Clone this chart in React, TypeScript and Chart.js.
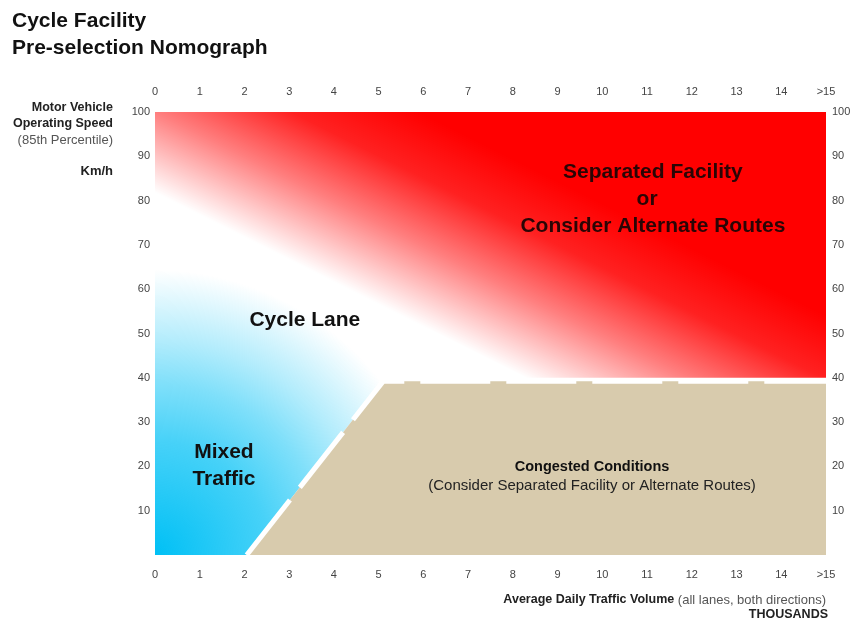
import React, { useEffect, useRef } from 'react';
import { Chart, registerables } from 'chart.js';

Chart.register(...registerables);

// ---- data ----
const xTickLabels = ['0', '1', '2', '3', '4', '5', '6', '7', '8', '9', '10', '11', '12', '13', '14', '>15'];
const yTickLabels = ['', '10', '20', '30', '40', '50', '60', '70', '80', '90', '100'];

// Separated facility zone (red)
const separatedX = [0, 15, 15, 0];
const separatedY = [100, 100, 40, 40];
// Mixed traffic zone (blue, fades out before its upper edge)
const mixedX = [0, 2.05, 5.1, 5.1, 0];
const mixedY = [0, 0, 39.2, 70, 70];
// Congested conditions zone (tan)
const congestedX = [2.05, 5.1, 15, 15];
const congestedY = [0, 39.2, 39.2, 0];
// Dashed boundary of congested zone
const boundaryX = [2.05, 5.1, 15];
const boundaryY = [0, 39.2, 39.2];
// Line where the red fades out to white
const redFadeX = [0, 15];
const redFadeY = [81.8, 6.1];
// Centre of the blue fade
const blueCenterX = 0;
const blueCenterY = 0;

const FONT = "'Liberation Sans', Arial, sans-serif";

const toPoints = (xs: number[], ys: number[]) => xs.map((x, i) => ({ x, y: ys[i] }));

function linearFade(chart: any, fx: number[], fy: number[], depth: number, rgb: string, stops: [number, number][]) {
  const { ctx, chartArea, scales } = chart;
  if (!chartArea) return 'rgba(0,0,0,0)';
  const x0 = scales.x.getPixelForValue(fx[0]);
  const y0 = scales.y.getPixelForValue(fy[0]);
  const x1 = scales.x.getPixelForValue(fx[1]);
  const y1 = scales.y.getPixelForValue(fy[1]);
  const dx = x1 - x0;
  const dy = y1 - y0;
  const len = Math.hypot(dx, dy) || 1;
  const nx = dy / len;
  const ny = -dx / len;
  const g = ctx.createLinearGradient(x0, y0, x0 + nx * depth, y0 + ny * depth);
  stops.forEach(([t, a]) => g.addColorStop(t, `rgba(${rgb},${a})`));
  return g;
}

function radialFade(chart: any, cx: number, cy: number, radius: number, rgb: string, stops: [number, number][]) {
  const { ctx, chartArea, scales } = chart;
  if (!chartArea) return 'rgba(0,0,0,0)';
  const px = scales.x.getPixelForValue(cx);
  const py = scales.y.getPixelForValue(cy);
  const g = ctx.createRadialGradient(px, py, 0, px, py, radius);
  stops.forEach(([t, a]) => g.addColorStop(t, `rgba(${rgb},${a})`));
  return g;
}

const textPlugin = {
  id: 'nomographText',
  afterDraw(chart: any) {
    const { ctx, scales } = chart;
    const xs = scales.x;
    const ys = scales.y;
    ctx.save();
    ctx.textBaseline = 'middle';

    // Title
    ctx.fillStyle = '#111';
    ctx.textAlign = 'left';
    ctx.font = `bold 21px ${FONT}`;
    ctx.fillText('Cycle Facility', 12, 21);
    ctx.fillText('Pre-selection Nomograph', 12, 48);

    // Left axis title
    ctx.textAlign = 'right';
    ctx.font = `bold 12.5px ${FONT}`;
    ctx.fillStyle = '#222';
    ctx.fillText('Motor Vehicle', 113, 108);
    ctx.fillText('Operating Speed', 113, 124);
    ctx.font = `13px ${FONT}`;
    ctx.fillStyle = '#555';
    ctx.fillText('(85th Percentile)', 113, 140);
    ctx.font = `bold 13px ${FONT}`;
    ctx.fillStyle = '#222';
    ctx.fillText('Km/h', 113, 171);

    // Bottom axis title
    ctx.font = `13px ${FONT}`;
    ctx.fillStyle = '#555';
    const normal = ' (all lanes, both directions)';
    const nw = ctx.measureText(normal).width;
    ctx.fillText(normal, 826, 600);
    ctx.font = `bold 12.5px ${FONT}`;
    ctx.fillStyle = '#222';
    ctx.fillText('Average Daily Traffic Volume', 826 - nw, 600);
    ctx.fillText('THOUSANDS', 828, 615);

    // Region labels
    ctx.textAlign = 'center';
    const put = (t: string, x: number, y: number, font: string, color: string) => {
      ctx.font = font;
      ctx.fillStyle = color;
      ctx.fillText(t, xs.getPixelForValue(x), ys.getPixelForValue(y));
    };
    const big = `bold 21px ${FONT}`;
    put('Separated Facility', 11.13, 86.4, big, '#2a0505');
    put('or', 11.0, 80.3, big, '#2a0505');
    put('Consider Alternate Routes', 11.13, 74.2, big, '#2a0505');
    put('Cycle Lane', 3.35, 53, big, '#111');
    put('Mixed', 1.54, 23.2, big, '#111');
    put('Traffic', 1.54, 17.1, big, '#111');
    put('Congested Conditions', 9.77, 19.8, `bold 14.5px ${FONT}`, '#111');
    put('(Consider Separated Facility or Alternate Routes)', 9.77, 15.5, `15px ${FONT}`, '#222');
    ctx.restore();
  },
};

const tickFont = { family: FONT, size: 11 };

export default function App() {
  const ref = useRef<HTMLCanvasElement | null>(null);

  useEffect(() => {
    if (!ref.current) return;
    const xAxis = (position: string, h: number) => ({
      type: 'linear',
      position,
      min: 0,
      max: 15,
      grid: { display: false, drawTicks: false },
      border: { display: false },
      ticks: {
        stepSize: 1,
        autoSkip: false,
        padding: 13,
        color: '#444',
        font: tickFont,
        callback: (v: number) => xTickLabels[v] ?? '',
      },
      afterFit: (s: any) => {
        s.height = h;
      },
    });
    const yAxis = (position: string, w: number, pad: number) => ({
      type: 'linear',
      position,
      min: 0,
      max: 100,
      grid: { display: false, drawTicks: false },
      border: { display: false },
      ticks: {
        stepSize: 10,
        autoSkip: false,
        padding: pad,
        color: '#444',
        font: tickFont,
        callback: (v: number) => yTickLabels[v / 10] ?? '',
      },
      afterFit: (s: any) => {
        s.width = w;
      },
    });

    const chart = new Chart(ref.current, {
      type: 'scatter',
      data: {
        datasets: [
          {
            label: 'Boundary',
            data: toPoints(boundaryX, boundaryY),
            showLine: true,
            borderColor: '#ffffff',
            borderWidth: 5,
            borderDash: [70, 16],
            pointRadius: 0,
            fill: false,
            order: 0,
          },
          {
            label: 'Congested Conditions',
            data: toPoints(congestedX, congestedY),
            showLine: true,
            borderWidth: 0,
            borderColor: 'rgba(0,0,0,0)',
            backgroundColor: 'rgb(216,203,173)',
            pointRadius: 0,
            fill: 'shape',
            order: 1,
          },
          {
            label: 'Mixed Traffic',
            data: toPoints(mixedX, mixedY),
            showLine: true,
            borderWidth: 0,
            borderColor: 'rgba(0,0,0,0)',
            backgroundColor: (c: any) =>
              radialFade(c.chart, blueCenterX, blueCenterY, 285, '0,192,245', [
                [0, 1],
                [0.4, 0.72],
                [0.6, 0.5],
                [0.75, 0.3],
                [1, 0],
              ]),
            pointRadius: 0,
            fill: 'shape',
            order: 2,
          },
          {
            label: 'Separated Facility',
            data: toPoints(separatedX, separatedY),
            showLine: true,
            borderWidth: 0,
            borderColor: 'rgba(0,0,0,0)',
            backgroundColor: (c: any) =>
              linearFade(c.chart, redFadeX, redFadeY, 190, '255,0,0', [
                [0, 0],
                [0.38, 0.5],
                [0.7, 0.87],
                [1, 1],
              ]),
            pointRadius: 0,
            fill: 'shape',
            order: 3,
          },
        ],
      } as any,
      options: {
        animation: false,
        responsive: false,
        layout: { padding: 0 },
        plugins: {
          legend: { display: false },
          tooltip: { enabled: false },
          title: { display: false },
        },
        scales: {
          x: xAxis('bottom', 65),
          x2: xAxis('top', 112),
          y: yAxis('left', 155, 5),
          y2: yAxis('right', 28, 6),
        } as any,
      },
      plugins: [textPlugin],
    });
    return () => chart.destroy();
  }, []);

  return (
    <div style={{ position: 'fixed', left: 0, top: 0, width: 854, height: 620, background: '#fff' }}>
      <canvas ref={ref} width={854} height={620} />
    </div>
  );
}
